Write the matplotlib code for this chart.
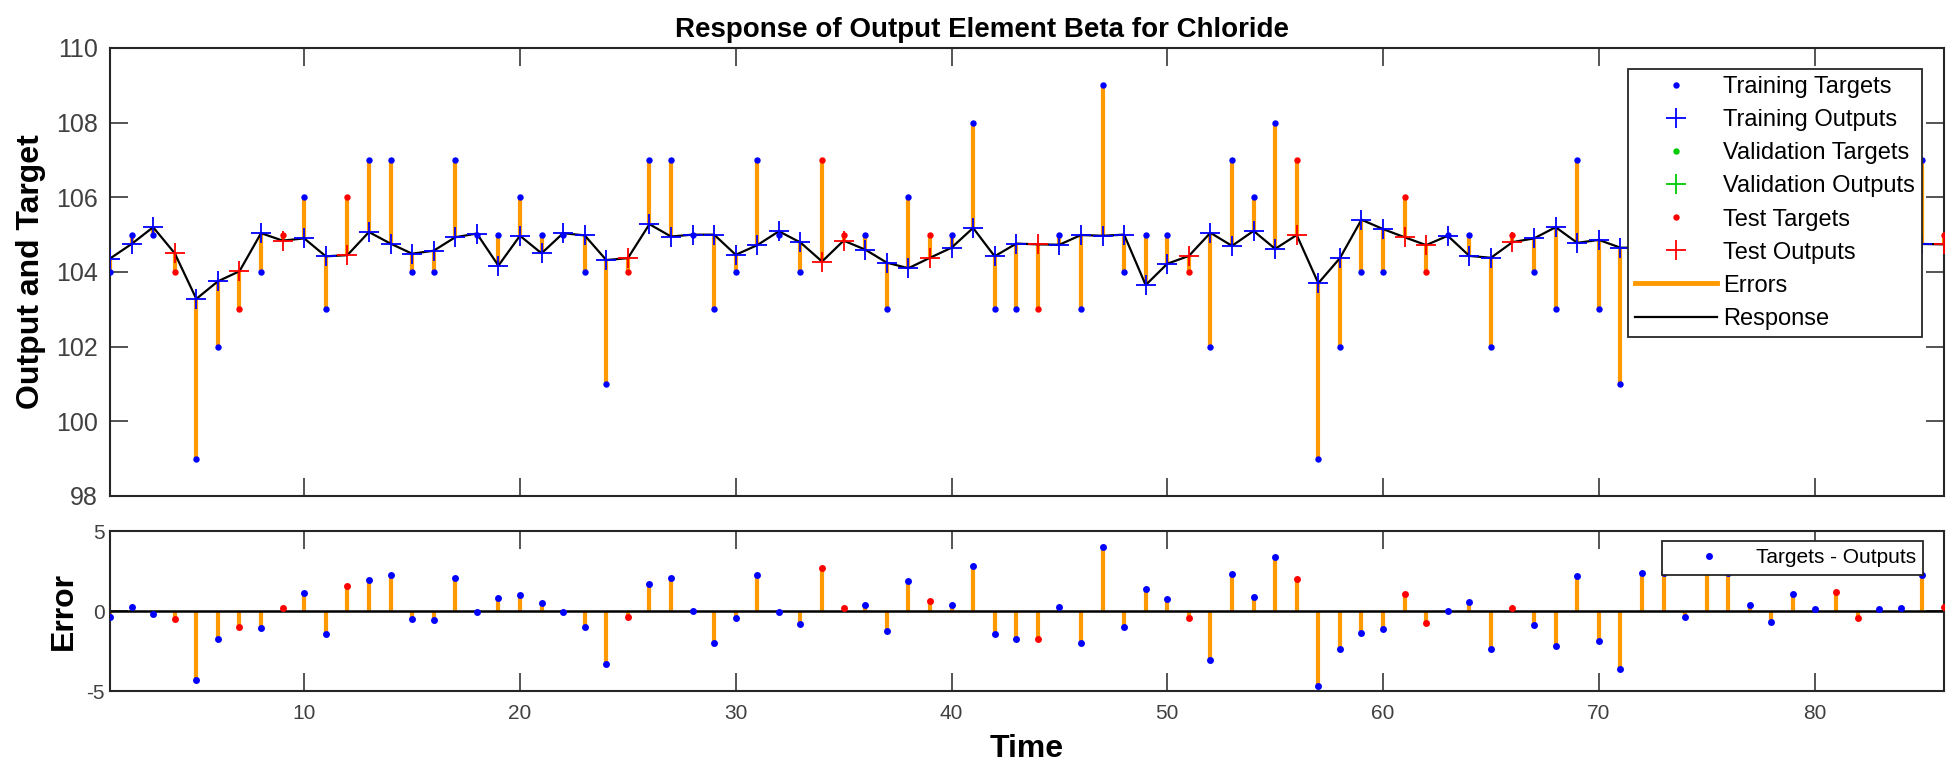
import numpy as np
import matplotlib.pyplot as plt
from matplotlib.lines import Line2D

plt.rcParams["font.family"] = ["Liberation Sans", "DejaVu Sans"]
plt.rcParams["axes.unicode_minus"] = False

# time steps and values
time = np.arange(1, 87)
targets = [104, 105, 105, 104, 99, 102, 103, 104, 105, 106,
           103, 106, 107, 107, 104, 104, 107, 105, 105, 106,
           105, 105, 104, 101, 104, 107, 107, 105, 103, 104,
           107, 105, 104, 107, 105, 105, 103, 106, 105, 105,
           108, 103, 103, 103, 105, 103, 109, 104, 105, 105,
           104, 102, 107, 106, 108, 107, 99, 102, 104, 104,
           106, 104, 105, 105, 102, 105, 104, 103, 107, 103,
           101, 107, 107, 104, 107, 107, 105, 104, 106, 105,
           106, 104, 105, 105, 107, 105]
outputs = [104.36, 104.75, 105.20, 104.50, 103.28, 103.75, 104.02, 105.04, 104.84, 104.90,
           104.42, 104.45, 105.07, 104.76, 104.49, 104.57, 104.93, 105.03, 104.17, 104.97,
           104.50, 105.04, 104.98, 104.32, 104.37, 105.28, 104.95, 105.00, 105.00, 104.46,
           104.72, 105.09, 104.79, 104.28, 104.84, 104.60, 104.25, 104.10, 104.38, 104.65,
           105.18, 104.42, 104.76, 104.74, 104.73, 104.99, 104.97, 105.00, 103.65, 104.22,
           104.43, 105.05, 104.70, 105.10, 104.62, 104.99, 103.70, 104.37, 105.40, 105.15,
           104.93, 104.72, 104.97, 104.43, 104.38, 104.80, 104.90, 105.20, 104.78, 104.86,
           104.65, 104.65, 104.60, 104.36, 104.50, 104.65, 104.65, 104.70, 104.95, 104.85,
           104.80, 104.42, 104.87, 104.83, 104.75, 104.74]
test_times = [4, 7, 9, 12, 25, 34, 35, 39, 44, 51, 56, 61, 62, 66, 81, 82, 86]

targets = np.array(targets)
outputs = np.array(outputs)
errors = targets - outputs
test = np.isin(time, test_times)
train = ~test

BLUE = "#0000ff"
RED = "#ff0000"
GREEN = "#00cc00"
ORANGE = "#ff9900"
EDGE = "#262626"
LABEL = "#404040"

fig = plt.figure(figsize=(19.54, 7.64), dpi=100)
ax1 = fig.add_axes([0.0563, 0.3508, 0.9386, 0.5864])
ax2 = fig.add_axes([0.0563, 0.0955, 0.9386, 0.2094])

# ---- top: response ----
ax1.vlines(time, outputs, targets, color=ORANGE, lw=3, zorder=1)
ax1.plot(time, outputs, color="black", lw=1.6, zorder=2)
ax1.plot(time[train], targets[train], "o", ms=4.6, mew=0, color=BLUE, zorder=3)
ax1.plot(time[test], targets[test], "o", ms=4.6, mew=0, color=RED, zorder=3)
ax1.plot(time[train], outputs[train], "+", ms=14, mew=1.3, color=BLUE, zorder=4)
ax1.plot(time[test], outputs[test], "+", ms=14, mew=1.3, color=RED, zorder=4)

ax1.set_xlim(1, 86)
ax1.set_ylim(98, 110)
ax1.set_xticks(range(10, 81, 10))
ax1.set_yticks(range(98, 111, 2))
ax1.tick_params(direction="in", length=13, width=1.1, top=True, right=True,
                labelbottom=False, labelsize=18, color=EDGE, labelcolor=LABEL, pad=9)
ax1.set_ylabel("Output and Target", fontsize=23, fontweight="bold", labelpad=7)
ax1.set_title("Response of Output Element Beta for Chloride", fontsize=20,
              fontweight="bold", x=0.4755, pad=8)

handles = [
    Line2D([], [], ls="", marker="o", ms=4.6, mew=0, color=BLUE),
    Line2D([], [], ls="", marker="+", ms=14, mew=1.3, color=BLUE),
    Line2D([], [], ls="", marker="o", ms=4.6, mew=0, color=GREEN),
    Line2D([], [], ls="", marker="+", ms=14, mew=1.3, color=GREEN),
    Line2D([], [], ls="", marker="o", ms=4.6, mew=0, color=RED),
    Line2D([], [], ls="", marker="+", ms=14, mew=1.3, color=RED),
    Line2D([], [], color=ORANGE, lw=3.5),
    Line2D([], [], color="black", lw=1.6),
]
names = ["Training Targets", "Training Outputs", "Validation Targets", "Validation Outputs",
         "Test Targets", "Test Outputs", "Errors", "Response"]
leg = ax1.legend(handles, names, loc="upper right", bbox_to_anchor=(0.988, 0.953),
                 borderaxespad=0, fontsize=17, handlelength=3.47, handletextpad=0.25,
                 borderpad=0.3, labelspacing=0.47, fancybox=False, edgecolor=EDGE,
                 framealpha=1)
leg.get_frame().set_linewidth(1.3)

# ---- bottom: error ----
ax2.vlines(time, 0, errors, color=ORANGE, lw=3, zorder=1)
ax2.axhline(0, color="black", lw=1.8, zorder=2)
ax2.plot(time[train], errors[train], "o", ms=5, mew=0, color=BLUE, zorder=3,
         label="Targets - Outputs")
ax2.plot(time[test], errors[test], "o", ms=5, mew=0, color=RED, zorder=3)

ax2.set_xlim(1, 86)
ax2.set_ylim(-5, 5)
ax2.set_xticks(range(10, 81, 10))
ax2.set_yticks([-5, 0, 5])
ax2.tick_params(axis="x", direction="in", length=13, width=1.1, top=True,
                labelsize=15, color=EDGE, labelcolor=LABEL, pad=9)
ax2.tick_params(axis="y", direction="in", length=13, width=1.1, right=True,
                labelsize=15, color=EDGE, labelcolor=LABEL, pad=4)
ax2.set_ylabel("Error", fontsize=23, fontweight="bold", labelpad=5)
ax2.set_xlabel("Time", fontsize=23, fontweight="bold", labelpad=8)

leg2 = ax2.legend(loc="upper right", bbox_to_anchor=(0.9886, 0.9375), borderaxespad=0,
                  fontsize=15, handlelength=3.8, handletextpad=0.33, borderpad=0.35,
                  fancybox=False, edgecolor=EDGE, framealpha=1)
leg2.get_frame().set_linewidth(1.3)

for ax in (ax1, ax2):
    for s in ax.spines.values():
        s.set_color(EDGE)
        s.set_linewidth(1.5)

fig.savefig("out.png", dpi=100)
